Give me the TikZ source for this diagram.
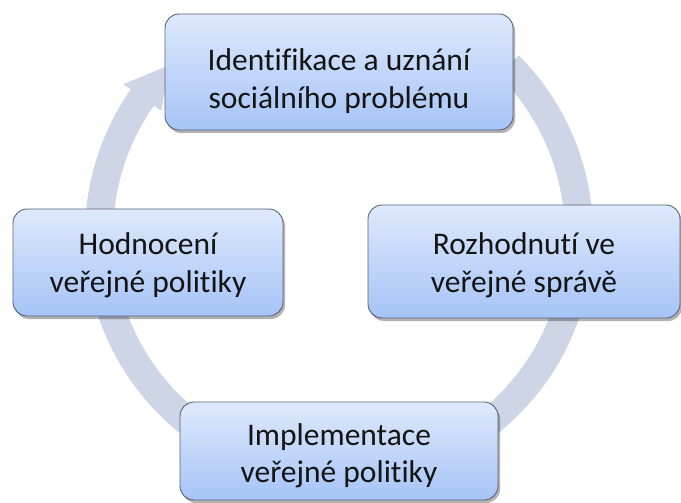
\documentclass[tikz,border=0pt]{standalone}
\usepackage{fontspec}
\setmainfont{Carlito}[Ligatures={NoCommon}]
\usetikzlibrary{shadows,calc}
\definecolor{ringc}{RGB}{205,213,230}
\definecolor{boxtop}{RGB}{222,233,252}
\definecolor{boxbot}{RGB}{166,196,247}
\definecolor{boxline}{RGB}{88,98,118}
\definecolor{txt}{RGB}{20,20,20}
\begin{document}
\begin{tikzpicture}[x=1pt,y=-1pt,
  stepbox/.style={draw=boxline, line width=0.9pt, rounded corners=14pt,
    top color=boxtop, bottom color=boxbot, inner sep=0pt,
    drop shadow={shadow xshift=2pt, shadow yshift=-3pt, fill=black, opacity=0.3}},
  steptext/.style={align=center, text=txt, inner sep=0pt,
    font=\fontsize{31.5}{37.5}\selectfont},
  ringline/.style={line width=28pt, draw=ringc},
  ringshadow/.style={line width=28pt, draw=black, opacity=0.12}]
\useasboundingbox (0,0) rectangle (681,503);
\coordinate (c) at (339,235);
% ring shadow
\begin{scope}[shift={(2,3)}]
  \draw[ringshadow] ($(c)+(-45:240)$) arc[start angle=-45, end angle=215, radius=240];
  \fill[black, opacity=0.12] ($(c)+(215:263)$) -- ($(c)+(225:240)$) -- ($(c)+(215:217)$) -- cycle;
\end{scope}
% ring
\draw[ringline] ($(c)+(-45:240)$) arc[start angle=-45, end angle=215.5, radius=240];
\fill[ringc] ($(c)+(215:263)$) coordinate (w1) -- ($(c)+(225:240)$) coordinate (tip) -- ($(c)+(215:217)$) coordinate (w2) -- cycle;
% boxes
\node[stepbox, minimum width=348pt, minimum height=116pt] (top) at (339,72) {};
\node[stepbox, minimum width=312pt, minimum height=113pt] (right) at (524,261.5) {};
\node[stepbox, minimum width=318pt, minimum height=98pt] (bottom) at (339,451) {};
\node[stepbox, minimum width=270pt, minimum height=107pt] (left) at (148,262.5) {};
% texts
\node[steptext] (toptext) at ($(top.center)+(0,9)$) {Identifikace a uznání\\sociálního problému};
\node[steptext] (righttext) at ($(right.center)+(0,4)$) {Rozhodnutí ve\\veřejné správě};
\node[steptext] (bottomtext) at ($(bottom.center)+(0,5)$) {Implementace\\veřejné politiky};
\node[steptext] (lefttext) at ($(left.center)+(0,3)$) {Hodnocení\\veřejné politiky};
\end{tikzpicture}
\end{document}
